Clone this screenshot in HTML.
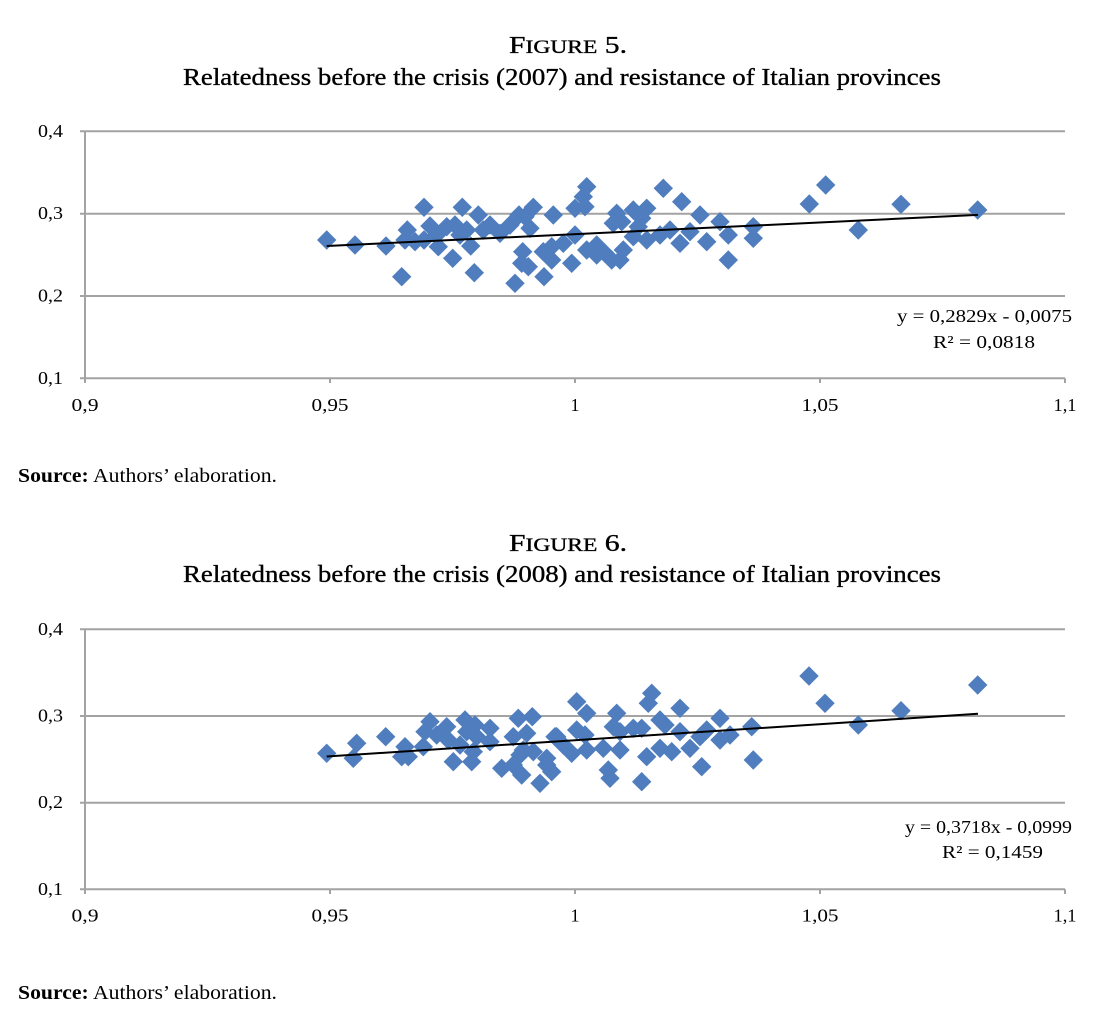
<!DOCTYPE html>
<html><head><meta charset="utf-8"><style>
html,body{margin:0;padding:0;background:#fff;}
svg{display:block;}
text{font-family:"Liberation Serif",serif;fill:#000;}
.t{stroke:#000;stroke-width:0.35;}
</style></head><body>
<svg width="1114" height="1026" viewBox="0 0 1114 1026" xmlns="http://www.w3.org/2000/svg">
<defs>
<path id="d" d="M0,-9.7L9.7,0L0,9.7L-9.7,0Z" fill="#4F7DBE"/>
</defs>

<!-- ===== FIGURE 5 ===== -->
<text class="t" x="509" y="53" font-size="24" textLength="118" lengthAdjust="spacingAndGlyphs">F<tspan font-size="19">IGURE</tspan> 5.</text>
<text class="t" x="183" y="85" font-size="24" textLength="758" lengthAdjust="spacingAndGlyphs">Relatedness before the crisis (2007) and resistance of Italian provinces</text>

<g stroke="#a3a3a3" stroke-width="2" fill="none">
<line x1="80" y1="131.3" x2="1065" y2="131.3"/>
<line x1="80" y1="213.7" x2="1065" y2="213.7"/>
<line x1="80" y1="296" x2="1065" y2="296"/>
<line x1="80" y1="378.3" x2="1065" y2="378.3"/>
<line x1="85" y1="131.3" x2="85" y2="383"/>
<line x1="330" y1="378.3" x2="330" y2="383"/>
<line x1="575" y1="378.3" x2="575" y2="383"/>
<line x1="820" y1="378.3" x2="820" y2="383"/>
<line x1="1065" y1="378.3" x2="1065" y2="383"/>
</g>

<g font-size="18">
<text x="63" y="137" text-anchor="end" textLength="25" lengthAdjust="spacingAndGlyphs">0,4</text>
<text x="63" y="219" text-anchor="end" textLength="25" lengthAdjust="spacingAndGlyphs">0,3</text>
<text x="63" y="301.5" text-anchor="end" textLength="25" lengthAdjust="spacingAndGlyphs">0,2</text>
<text x="63" y="384" text-anchor="end" textLength="25" lengthAdjust="spacingAndGlyphs">0,1</text>
<text x="85" y="411" text-anchor="middle" textLength="27" lengthAdjust="spacingAndGlyphs">0,9</text>
<text x="330" y="411" text-anchor="middle" textLength="37" lengthAdjust="spacingAndGlyphs">0,95</text>
<text x="575" y="411" text-anchor="middle">1</text>
<text x="820" y="411" text-anchor="middle" textLength="37" lengthAdjust="spacingAndGlyphs">1,05</text>
<text x="1065" y="411" text-anchor="middle" textLength="23" lengthAdjust="spacingAndGlyphs">1,1</text>
</g>

<g>
<use href="#d" x="326.7" y="240"/><use href="#d" x="355" y="245"/><use href="#d" x="386" y="246"/>
<use href="#d" x="401.7" y="276.7"/><use href="#d" x="407.3" y="230"/><use href="#d" x="405" y="240"/>
<use href="#d" x="415" y="241.7"/><use href="#d" x="424" y="207.3"/><use href="#d" x="430" y="226"/>
<use href="#d" x="424" y="240"/><use href="#d" x="436.7" y="235"/><use href="#d" x="438.3" y="246.7"/>
<use href="#d" x="446.7" y="226.7"/><use href="#d" x="455" y="225"/><use href="#d" x="452.7" y="258.3"/>
<use href="#d" x="462.3" y="207.3"/><use href="#d" x="466.7" y="230"/><use href="#d" x="460" y="235"/>
<use href="#d" x="470.7" y="246"/><use href="#d" x="474.3" y="272.7"/><use href="#d" x="478.3" y="215"/>
<use href="#d" x="483.3" y="230"/><use href="#d" x="490" y="225"/><use href="#d" x="500" y="233.3"/>
<use href="#d" x="510" y="225"/><use href="#d" x="519" y="215"/><use href="#d" x="515" y="283.3"/>
<use href="#d" x="522.7" y="251.7"/><use href="#d" x="521.7" y="263.3"/><use href="#d" x="530" y="228.3"/>
<use href="#d" x="533.3" y="207.3"/><use href="#d" x="525" y="216.7"/><use href="#d" x="543.3" y="251.7"/>
<use href="#d" x="544" y="276.7"/><use href="#d" x="551.7" y="260"/><use href="#d" x="553.3" y="215"/>
<use href="#d" x="551.7" y="246.7"/><use href="#d" x="563.3" y="243.3"/><use href="#d" x="575" y="235"/>
<use href="#d" x="571.7" y="263.3"/><use href="#d" x="575" y="208.3"/><use href="#d" x="586.7" y="186.7"/>
<use href="#d" x="583.3" y="196.7"/><use href="#d" x="585" y="206.7"/><use href="#d" x="586.7" y="250"/>
<use href="#d" x="596.7" y="245"/><use href="#d" x="596.7" y="255"/><use href="#d" x="605" y="253.3"/>
<use href="#d" x="611.7" y="260"/><use href="#d" x="616.7" y="213.3"/><use href="#d" x="613.3" y="223.3"/>
<use href="#d" x="621.7" y="221.7"/><use href="#d" x="623.3" y="250"/><use href="#d" x="620" y="260"/>
<use href="#d" x="633.3" y="210"/><use href="#d" x="641.7" y="218.3"/><use href="#d" x="646.7" y="208.3"/>
<use href="#d" x="638.3" y="226.7"/><use href="#d" x="633.3" y="236.7"/><use href="#d" x="646.7" y="240"/>
<use href="#d" x="660" y="235"/><use href="#d" x="663.3" y="188.3"/><use href="#d" x="670" y="230"/>
<use href="#d" x="680" y="243.3"/><use href="#d" x="681.7" y="201.7"/><use href="#d" x="690" y="231.7"/>
<use href="#d" x="700" y="215"/><use href="#d" x="706.7" y="241.7"/><use href="#d" x="720" y="221.7"/>
<use href="#d" x="728.3" y="235"/><use href="#d" x="728.3" y="260"/><use href="#d" x="753.3" y="226.7"/>
<use href="#d" x="753.3" y="238.3"/><use href="#d" x="809.3" y="204"/><use href="#d" x="825.7" y="185"/>
<use href="#d" x="858.3" y="230"/><use href="#d" x="901" y="204.3"/><use href="#d" x="977.7" y="210"/>
<use href="#d" x="528.3" y="266.7"/>
</g>
<line x1="326.7" y1="246" x2="978" y2="214.9" stroke="#000" stroke-width="2"/>

<text x="897" y="322" font-size="18" textLength="175" lengthAdjust="spacingAndGlyphs">y = 0,2829x - 0,0075</text>
<text x="933" y="348" font-size="18" textLength="102" lengthAdjust="spacingAndGlyphs">R² = 0,0818</text>

<text x="18" y="482" font-size="20" textLength="259" lengthAdjust="spacingAndGlyphs"><tspan font-weight="bold">Source:</tspan> Authors’ elaboration.</text>

<!-- ===== FIGURE 6 ===== -->
<text class="t" x="509" y="551" font-size="24" textLength="118" lengthAdjust="spacingAndGlyphs">F<tspan font-size="19">IGURE</tspan> 6.</text>
<text class="t" x="183" y="582" font-size="24" textLength="758" lengthAdjust="spacingAndGlyphs">Relatedness before the crisis (2008) and resistance of Italian provinces</text>

<g stroke="#a3a3a3" stroke-width="2" fill="none">
<line x1="80" y1="629.3" x2="1065" y2="629.3"/>
<line x1="80" y1="716" x2="1065" y2="716"/>
<line x1="80" y1="802.7" x2="1065" y2="802.7"/>
<line x1="80" y1="889.3" x2="1065" y2="889.3"/>
<line x1="85" y1="629.3" x2="85" y2="894"/>
<line x1="330" y1="889.3" x2="330" y2="894"/>
<line x1="575" y1="889.3" x2="575" y2="894"/>
<line x1="820" y1="889.3" x2="820" y2="894"/>
<line x1="1065" y1="889.3" x2="1065" y2="894"/>
</g>

<g font-size="18">
<text x="63" y="635" text-anchor="end" textLength="25" lengthAdjust="spacingAndGlyphs">0,4</text>
<text x="63" y="721.5" text-anchor="end" textLength="25" lengthAdjust="spacingAndGlyphs">0,3</text>
<text x="63" y="808" text-anchor="end" textLength="25" lengthAdjust="spacingAndGlyphs">0,2</text>
<text x="63" y="895" text-anchor="end" textLength="25" lengthAdjust="spacingAndGlyphs">0,1</text>
<text x="85" y="921.5" text-anchor="middle" textLength="27" lengthAdjust="spacingAndGlyphs">0,9</text>
<text x="330" y="921.5" text-anchor="middle" textLength="37" lengthAdjust="spacingAndGlyphs">0,95</text>
<text x="575" y="921.5" text-anchor="middle">1</text>
<text x="820" y="921.5" text-anchor="middle" textLength="37" lengthAdjust="spacingAndGlyphs">1,05</text>
<text x="1065" y="921.5" text-anchor="middle" textLength="23" lengthAdjust="spacingAndGlyphs">1,1</text>
</g>

<g>
<use href="#d" x="326.7" y="753.3"/><use href="#d" x="356.7" y="743.3"/><use href="#d" x="353.3" y="758.3"/>
<use href="#d" x="385.7" y="736.7"/><use href="#d" x="405" y="746.7"/><use href="#d" x="401.7" y="756.7"/>
<use href="#d" x="408.3" y="756.7"/><use href="#d" x="430" y="721.7"/><use href="#d" x="425" y="731.7"/>
<use href="#d" x="423.3" y="746.7"/><use href="#d" x="436.7" y="735"/><use href="#d" x="446.7" y="726.7"/>
<use href="#d" x="448.3" y="740"/><use href="#d" x="453.3" y="761.7"/><use href="#d" x="465" y="720"/>
<use href="#d" x="466.7" y="731.7"/><use href="#d" x="460" y="745"/><use href="#d" x="475" y="725"/>
<use href="#d" x="476.7" y="736.7"/><use href="#d" x="473.3" y="751.7"/><use href="#d" x="471.7" y="761.7"/>
<use href="#d" x="490" y="728.3"/><use href="#d" x="490" y="741.7"/><use href="#d" x="501.7" y="768.3"/>
<use href="#d" x="518.3" y="718.3"/><use href="#d" x="532.3" y="716.7"/><use href="#d" x="513.3" y="736.7"/>
<use href="#d" x="526.7" y="733.3"/><use href="#d" x="520" y="755"/><use href="#d" x="513.3" y="765"/>
<use href="#d" x="521.7" y="775"/><use href="#d" x="533.3" y="751.7"/><use href="#d" x="540" y="783.3"/>
<use href="#d" x="546.7" y="765"/><use href="#d" x="555" y="736.7"/><use href="#d" x="523.3" y="750"/>
<use href="#d" x="551.7" y="771.7"/><use href="#d" x="546.7" y="758.3"/><use href="#d" x="556.7" y="736.7"/>
<use href="#d" x="563.3" y="745"/><use href="#d" x="571.7" y="753.3"/><use href="#d" x="576.7" y="701.7"/>
<use href="#d" x="586.7" y="713.3"/><use href="#d" x="576.7" y="730"/><use href="#d" x="585" y="735"/>
<use href="#d" x="586.7" y="750"/><use href="#d" x="603.3" y="748.3"/><use href="#d" x="608.3" y="770"/>
<use href="#d" x="610" y="778.3"/><use href="#d" x="616.7" y="713.3"/><use href="#d" x="613.3" y="726.7"/>
<use href="#d" x="620" y="731.7"/><use href="#d" x="620" y="750"/><use href="#d" x="633.3" y="728.3"/>
<use href="#d" x="641.7" y="728.3"/><use href="#d" x="646.7" y="756.7"/><use href="#d" x="641.7" y="781.7"/>
<use href="#d" x="651.7" y="693.3"/><use href="#d" x="648.3" y="703.3"/><use href="#d" x="660" y="720"/>
<use href="#d" x="665" y="725"/><use href="#d" x="660" y="748.3"/><use href="#d" x="671.7" y="751.7"/>
<use href="#d" x="680" y="708.3"/><use href="#d" x="680" y="731.7"/><use href="#d" x="690" y="748.3"/>
<use href="#d" x="700" y="736.7"/><use href="#d" x="706.7" y="730"/><use href="#d" x="701.7" y="766.7"/>
<use href="#d" x="720" y="718.3"/><use href="#d" x="720" y="740"/><use href="#d" x="730" y="735"/>
<use href="#d" x="751.7" y="726.7"/><use href="#d" x="753.3" y="760"/><use href="#d" x="809" y="676"/>
<use href="#d" x="825" y="703.3"/><use href="#d" x="858.3" y="725"/><use href="#d" x="901" y="710.7"/>
<use href="#d" x="977.7" y="685"/>
</g>
<line x1="326.7" y1="756.5" x2="978" y2="713.8" stroke="#000" stroke-width="2"/>

<text x="905" y="833" font-size="18" textLength="167" lengthAdjust="spacingAndGlyphs">y = 0,3718x - 0,0999</text>
<text x="942" y="858" font-size="18" textLength="101" lengthAdjust="spacingAndGlyphs">R² = 0,1459</text>

<text x="18" y="999" font-size="20" textLength="259" lengthAdjust="spacingAndGlyphs"><tspan font-weight="bold">Source:</tspan> Authors’ elaboration.</text>
</svg>
</body></html>
